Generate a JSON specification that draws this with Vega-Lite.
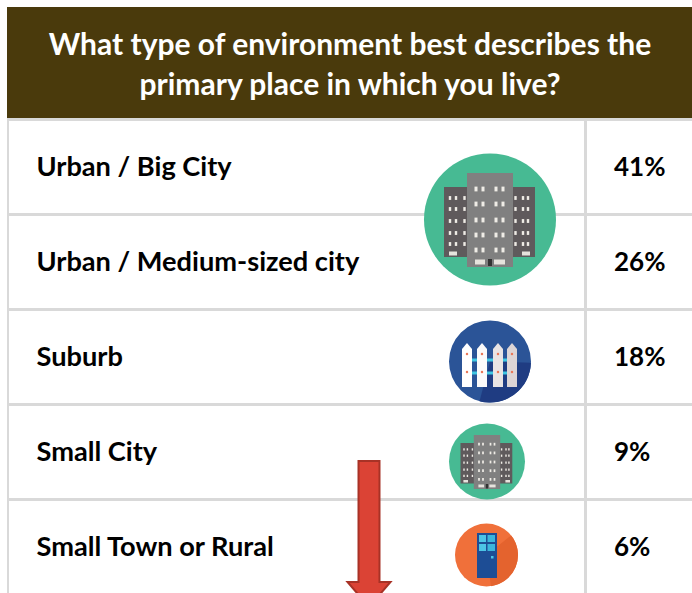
{"$schema":"https://vega.github.io/schema/vega-lite/v6.json","width":692,"height":593,"padding":0,"autosize":{"type":"none"},"background":"#ffffff","config":{"view":{"stroke":null}},"resolve":{"scale":{"x":"independent","y":"independent"}},
"datasets":{
"rows":[{"rank":1,"column":"Environment","text":"Urban / Big City"},{"rank":2,"column":"Environment","text":"Urban / Medium-sized city"},{"rank":3,"column":"Environment","text":"Suburb"},{"rank":4,"column":"Environment","text":"Small City"},{"rank":5,"column":"Environment","text":"Small Town or Rural"},{"rank":1,"column":"Share","text":"41%"},{"rank":2,"column":"Share","text":"26%"},{"rank":3,"column":"Share","text":"18%"},{"rank":4,"column":"Share","text":"9%"},{"rank":5,"column":"Share","text":"6%"}],
"back":[
{"x":7,"x2":692,"y":7,"y2":118,"c":"#4A3A0C"},
{"x":7,"x2":692,"y":118,"y2":121,"c":"#D9D9D9"},
{"x":7,"x2":9,"y":119,"y2":593,"c":"#D9D9D9"},
{"x":584,"x2":587,"y":119,"y2":593,"c":"#D9D9D9"},
{"x":7,"x2":692,"y":213,"y2":216,"c":"#D9D9D9"},
{"x":7,"x2":692,"y":308,"y2":311,"c":"#D9D9D9"},
{"x":7,"x2":692,"y":403,"y2":406,"c":"#D9D9D9"},
{"x":7,"x2":692,"y":498,"y2":501,"c":"#D9D9D9"}],
"discs":[{"x":490,"y":219.5,"s":17424,"c":"#47BA93"},{"x":490,"y":361.5,"s":6724,"c":"#2B5497"},{"x":487,"y":461.5,"s":5776,"c":"#47BA93"},{"x":486.5,"y":555,"s":3969,"c":"#F0703A"}],
"parts":[
{"x":444,"x2":535,"y":187,"y2":257,"c":"#5F5A5C"},
{"x":467,"x2":513,"y":173,"y2":267,"c":"#808080"},
{"x":475,"x2":485,"y":259.5,"y2":264.5,"c":"#E6E3DD"},
{"x":494,"x2":505,"y":259.5,"y2":264.5,"c":"#E6E3DD"},
{"x":488,"x2":492,"y":259,"y2":266,"c":"#333333"},
{"x":449,"x2":457,"y":251.5,"y2":255.5,"c":"#E6E3DD"},
{"x":522,"x2":530,"y":251.5,"y2":255.5,"c":"#E6E3DD"},
{"x":460.5,"x2":512.3,"y":443,"y2":483.4,"c":"#5F5A5C"},
{"x":473.8,"x2":500.2,"y":435,"y2":489,"c":"#808080"},
{"x":478.4,"x2":484.1,"y":484.5,"y2":487.4,"c":"#E6E3DD"},
{"x":489.3,"x2":495.6,"y":484.5,"y2":487.4,"c":"#E6E3DD"},
{"x":485.8,"x2":488.2,"y":484,"y2":488.5,"c":"#333333"},
{"x":463.4,"x2":468,"y":480,"y2":482.5,"c":"#E6E3DD"},
{"x":505.4,"x2":510,"y":480,"y2":482.5,"c":"#E6E3DD"},
{"x":472,"x2":508,"y":358.5,"y2":361.5,"c":"#3FC6E2"},
{"x":472,"x2":508,"y":371.5,"y2":374.5,"c":"#3FC6E2"},
{"x":477,"x2":497,"y":533,"y2":578,"c":"#1D4D95"},
{"x":479,"x2":486,"y":535,"y2":542,"c":"#4CC4E6"},
{"x":487.5,"x2":495,"y":535,"y2":542,"c":"#3BB5DC"},
{"x":479,"x2":486,"y":544,"y2":551,"c":"#4CC4E6"},
{"x":487.5,"x2":495,"y":544,"y2":551,"c":"#3BB5DC"},
{"x":491,"x2":493.5,"y":556,"y2":558.5,"c":"#4CC4E6"}],
"windows":[
{"x":476,"y":189,"s":9},{"x":483,"y":189,"s":9},{"x":496,"y":189,"s":9},{"x":503,"y":189,"s":9},
{"x":476,"y":204,"s":9},{"x":483,"y":204,"s":9},{"x":496,"y":204,"s":9},{"x":503,"y":204,"s":9},
{"x":476,"y":220,"s":9},{"x":483,"y":220,"s":9},{"x":496,"y":220,"s":9},{"x":503,"y":220,"s":9},
{"x":476,"y":235,"s":9},{"x":483,"y":235,"s":9},{"x":496,"y":235,"s":9},{"x":503,"y":235,"s":9},
{"x":476,"y":250,"s":9},{"x":483,"y":250,"s":9},{"x":496,"y":250,"s":9},{"x":503,"y":250,"s":9},
{"x":450,"y":198,"s":5.8},{"x":456,"y":198,"s":5.8},{"x":464.5,"y":198,"s":5.8},{"x":515.5,"y":198,"s":5.8},{"x":523,"y":198,"s":5.8},{"x":528,"y":198,"s":5.8},
{"x":450,"y":209,"s":5.8},{"x":456,"y":209,"s":5.8},{"x":464.5,"y":209,"s":5.8},{"x":515.5,"y":209,"s":5.8},{"x":523,"y":209,"s":5.8},{"x":528,"y":209,"s":5.8},
{"x":450,"y":221,"s":5.8},{"x":456,"y":221,"s":5.8},{"x":464.5,"y":221,"s":5.8},{"x":515.5,"y":221,"s":5.8},{"x":523,"y":221,"s":5.8},{"x":528,"y":221,"s":5.8},
{"x":450,"y":233,"s":5.8},{"x":456,"y":233,"s":5.8},{"x":464.5,"y":233,"s":5.8},{"x":515.5,"y":233,"s":5.8},{"x":523,"y":233,"s":5.8},{"x":528,"y":233,"s":5.8},
{"x":450,"y":244,"s":5.8},{"x":456,"y":244,"s":5.8},{"x":464.5,"y":244,"s":5.8},{"x":515.5,"y":244,"s":5.8},{"x":523,"y":244,"s":5.8},{"x":528,"y":244,"s":5.8},
{"x":479,"y":444.2,"s":3},{"x":483,"y":444.2,"s":3},{"x":490.5,"y":444.2,"s":3},{"x":494.5,"y":444.2,"s":3},
{"x":479,"y":452.9,"s":3},{"x":483,"y":452.9,"s":3},{"x":490.5,"y":452.9,"s":3},{"x":494.5,"y":452.9,"s":3},
{"x":479,"y":462,"s":3},{"x":483,"y":462,"s":3},{"x":490.5,"y":462,"s":3},{"x":494.5,"y":462,"s":3},
{"x":479,"y":470.7,"s":3},{"x":483,"y":470.7,"s":3},{"x":490.5,"y":470.7,"s":3},{"x":494.5,"y":470.7,"s":3},
{"x":479,"y":479.4,"s":3},{"x":483,"y":479.4,"s":3},{"x":490.5,"y":479.4,"s":3},{"x":494.5,"y":479.4,"s":3},
{"x":464,"y":449.4,"s":2},{"x":467.4,"y":449.4,"s":2},{"x":472.4,"y":449.4,"s":2},{"x":501.6,"y":449.4,"s":2},{"x":506,"y":449.4,"s":2},{"x":508.9,"y":449.4,"s":2},
{"x":464,"y":455.7,"s":2},{"x":467.4,"y":455.7,"s":2},{"x":472.4,"y":455.7,"s":2},{"x":501.6,"y":455.7,"s":2},{"x":506,"y":455.7,"s":2},{"x":508.9,"y":455.7,"s":2},
{"x":464,"y":462.7,"s":2},{"x":467.4,"y":462.7,"s":2},{"x":472.4,"y":462.7,"s":2},{"x":501.6,"y":462.7,"s":2},{"x":506,"y":462.7,"s":2},{"x":508.9,"y":462.7,"s":2},
{"x":464,"y":469.6,"s":2},{"x":467.4,"y":469.6,"s":2},{"x":472.4,"y":469.6,"s":2},{"x":501.6,"y":469.6,"s":2},{"x":506,"y":469.6,"s":2},{"x":508.9,"y":469.6,"s":2},
{"x":464,"y":475.9,"s":2},{"x":467.4,"y":475.9,"s":2},{"x":472.4,"y":475.9,"s":2},{"x":501.6,"y":475.9,"s":2},{"x":506,"y":475.9,"s":2},{"x":508.9,"y":475.9,"s":2}],
"pickets":[{"x":467,"y":365,"c":"#FFFFFF"},{"x":482,"y":365,"c":"#FBFAFA"},{"x":498,"y":365,"c":"#E9E4E4"},{"x":512,"y":365,"c":"#DDD5D5"}],
"nails":[{"x":467,"y":354},{"x":482,"y":354},{"x":498,"y":354},{"x":512,"y":354},{"x":467,"y":372},{"x":482,"y":372},{"x":498,"y":372},{"x":512,"y":372}],
"heading":[{"x":350,"y":45.5,"line":"What type of environment best describes the"},{"x":350,"y":85.5,"line":"primary place in which you live?"}]
},
"encoding":{"x":{"field":"x","type":"quantitative","scale":{"domain":[0,692],"nice":false,"zero":false},"axis":null},"y":{"field":"y","type":"quantitative","scale":{"domain":[593,0],"nice":false,"zero":false},"axis":null}},
"layer":[
{"data":{"name":"back"},"mark":{"type":"rect"},"encoding":{"x2":{"field":"x2"},"y2":{"field":"y2"},"color":{"field":"c","type":"nominal","scale":null}}},
{"data":{"name":"discs"},"mark":{"type":"point","filled":true,"opacity":1,"shape":"circle"},"encoding":{"size":{"field":"s","type":"quantitative","scale":null},"color":{"field":"c","type":"nominal","scale":null}}},
{"data":{"values":[{"x":490,"y":361.5}]},"mark":{"type":"arc","theta":1.6,"theta2":3.4,"outerRadius":41,"color":"#1F3C82"}},
{"data":{"values":[{"x":486.5,"y":555}]},"mark":{"type":"arc","theta":0.9,"theta2":3.0,"outerRadius":31.5,"color":"#E4632E"}},
{"data":{"name":"parts"},"mark":{"type":"rect"},"encoding":{"x2":{"field":"x2"},"y2":{"field":"y2"},"color":{"field":"c","type":"nominal","scale":null}}},
{"data":{"name":"windows"},"mark":{"type":"point","filled":true,"opacity":1,"color":"#EFECE6","shape":"M-1,-1.6H1V1.6H-1Z"},"encoding":{"size":{"field":"s","type":"quantitative","scale":null}}},
{"data":{"name":"pickets"},"mark":{"type":"point","filled":true,"opacity":1,"size":4,"shape":"M-5,-16L0,-22L5,-16V22H-5Z"},"encoding":{"color":{"field":"c","type":"nominal","scale":null}}},
{"data":{"name":"nails"},"mark":{"type":"point","filled":true,"opacity":1,"size":6,"color":"#E9795A","shape":"circle"}},
{"data":{"name":"heading"},"mark":{"type":"text","font":"Lato","fontWeight":"bold","fontSize":30,"color":"#FFFFFF","align":"center","baseline":"middle"},"encoding":{"text":{"field":"line"}}},
{"data":{"name":"rows"},"transform":[{"filter":{"field":"column","equal":"Environment"}}],"mark":{"type":"text","font":"Lato","fontWeight":"bold","fontSize":27.2,"color":"#000000","align":"left","baseline":"middle"},"encoding":{"x":{"field":"column","type":"nominal","scale":{"type":"point","domain":["Environment","Share"],"range":[36.5,614],"padding":0},"axis":null},"y":{"field":"rank","type":"quantitative","scale":{"domain":[0.5,5.5],"nice":false,"zero":false,"range":[120,595]},"axis":null},"text":{"field":"text","type":"nominal"}}},
{"data":{"name":"rows"},"transform":[{"filter":{"field":"column","equal":"Share"}}],"mark":{"type":"text","font":"Lato","fontWeight":"bold","fontSize":26,"color":"#000000","align":"left","baseline":"middle"},"encoding":{"x":{"field":"column","type":"nominal","scale":{"type":"point","domain":["Environment","Share"],"range":[36.5,614],"padding":0},"axis":null},"y":{"field":"rank","type":"quantitative","scale":{"domain":[0.5,5.5],"nice":false,"zero":false,"range":[120,595]},"axis":null},"text":{"field":"text","type":"nominal"}}},
{"data":{"values":[{"x":369,"y":461}]},"mark":{"type":"point","filled":true,"opacity":1,"size":4,"color":"#DB4335","stroke":"#A83226","strokeWidth":2,"strokeOpacity":1,"shape":"M-10.5,0H10.5V121H21.5L0,146L-21.5,121H-10.5Z"}}
]}
